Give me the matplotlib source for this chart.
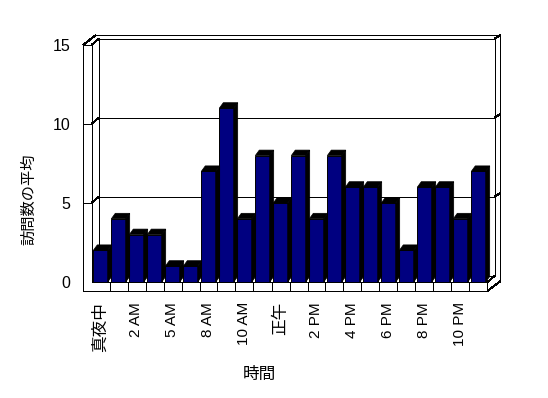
import matplotlib
matplotlib.use('Agg')
import matplotlib.pyplot as plt
from matplotlib.patches import Polygon

plt.rcParams['font.family'] = ['Liberation Sans', 'Noto Sans CJK JP', 'DejaVu Sans']

# ---------------- data ----------------
hours = ['真夜中', '1 AM', '2 AM', '3 AM', '5 AM', '7 AM', '8 AM', '9 AM', '10 AM',
         '11 AM', '正午', '1 PM', '2 PM', '3 PM', '4 PM', '5 PM', '6 PM', '7 PM',
         '8 PM', '9 PM', '10 PM', '11 PM']
visits = [2, 4, 3, 3, 1, 1, 7, 11, 4, 8, 5, 8, 4, 8, 6, 6, 5, 2, 6, 6, 4, 7]
yticks = [0, 5, 10, 15]
xlabel = '時間'
ylabel = '訪問数の平均'

# ---------------- figure ----------------
W, H = 548, 398
fig = plt.figure(figsize=(W / 100, H / 100), dpi=100)
L, R, T, B = 75, 510, 25, 300
ax = fig.add_axes([L / W, 1 - B / H, (R - L) / W, (B - T) / H])

# pixel <-> data helpers (front plane)
X0PX, DXPX = 100.5, 18.0
Y0PX, DYPX = 282.0, 15.8


def P(x, y):
    return ((x - X0PX) / DXPX, (Y0PX - y) / DYPX)


def xpx(c):
    return X0PX + c * DXPX


def ypx(v):
    return Y0PX - v * DYPX


ax.set_xlim(P(L, 0)[0], P(R, 0)[0])
ax.set_ylim(P(0, B)[1], P(0, T)[1])
for s in ax.spines.values():
    s.set_visible(False)

n = len(visits)
ymax = yticks[-1]
xo = 83.0                 # outer left edge of side wall
xi = xpx(-0.5)            # inner left edge
xr = xpx(n - 0.5)         # right end of floor
yt = ypx(ymax)            # top of walls (front)
yf = ypx(0)               # floor top
yb = yf + 9               # floor bottom
ax_, ay_ = 7.5, -6.5      # inner depth offset
bx_, by_ = 13.0, -10.0    # outer depth offset

segs = [
    ((xo, yt), (xo, yb)), ((xi, yt), (xi, yf)), ((xo, yt), (xi, yt)),
    ((xo, yb), (xr, yb)), ((xi, yf), (xr, yf)), ((xr, yf), (xr, yb)),
    ((xo, yt), (xo + bx_, yt + by_)), ((xi, yt), (xi + ax_, yt + ay_)),
    ((xi + ax_, yt + ay_), (xi + ax_, yf + ay_)),
    ((xi + ax_, yt + ay_), (xr + ax_, yt + ay_)),
    ((xo + bx_, yt + by_), (xr + bx_, yt + by_)),
    ((xr + ax_, yt + ay_), (xr + ax_, yf + ay_)),
    ((xr + ax_, yt + ay_), (xr + bx_, yt + by_)),
    ((xr + bx_, yt + by_), (xr + bx_, yb + by_)),
    ((xr, yb), (xr + bx_, yb + by_)), ((xr, yf), (xr + ax_, yf + ay_)),
    ((xi + ax_, yf + ay_), (xr + ax_, yf + ay_)),
]
for k in range(1, n):
    segs.append(((xpx(k - 0.5), yf), (xpx(k - 0.5), yb)))
for v in yticks[1:-1]:
    y = ypx(v)
    segs += [((xo, y), (xi, y)), ((xi, y), (xi + ax_, y + ay_)),
             ((xi + ax_, y + ay_), (xr + ax_, y + ay_)),
             ((xr + ax_, y + ay_), (xr + bx_, y + by_))]

for (p1, p2) in segs:
    a, b = P(*p1), P(*p2)
    ax.plot([a[0], b[0]], [a[1], b[1]], color='black', lw=0.72, zorder=1,
            solid_capstyle='butt', antialiased=False)

# ---------------- bars ----------------
bw = 0.8
ax.bar(range(n), visits, width=bw, color='#000080', edgecolor='black',
       linewidth=0.7, zorder=3)
cdx, cdy = 4.0 / DXPX, 5.5 / DYPX
for i, v in enumerate(visits):
    l, r = i - bw / 2, i + bw / 2
    top = Polygon([(l, v), (r, v), (r + cdx, v + cdy), (l + cdx, v + cdy)],
                  closed=True, facecolor='black', edgecolor='black', lw=0.5, zorder=4)
    side = Polygon([(r, v), (r + cdx, v + cdy), (r + cdx, cdy), (r, 0)],
                   closed=True, facecolor='black', edgecolor='black', lw=0.5, zorder=4)
    ax.add_patch(top)
    ax.add_patch(side)

# ---------------- ticks ----------------
ax.set_yticks(yticks)
ax.set_yticklabels([str(t) for t in yticks], fontsize=11.5)
ax.tick_params(axis='y', length=0, pad=3.6)

xt = list(range(0, n, 2))
ax.set_xticks(xt)
ax.set_xticklabels([hours[i] for i in xt], rotation=90, fontsize=11)
for lab in ax.get_xticklabels():
    if not lab.get_text()[0].isdigit():
        lab.set_fontsize(12)
ax.tick_params(axis='x', length=0, pad=1.5)

fig.text(29 / W, 1 - 199 / H, ylabel, rotation=90, ha='center', va='center', fontsize=11)
fig.text(259 / W, 1 - 374 / H, xlabel, ha='center', va='center', fontsize=12)

fig.savefig('out.png', dpi=100, facecolor='white')
